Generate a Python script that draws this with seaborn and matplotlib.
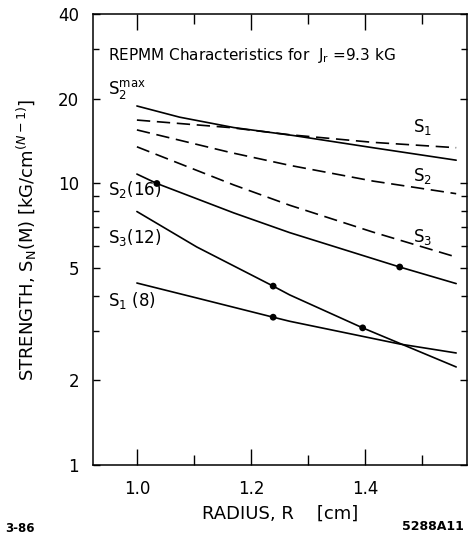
import numpy as np
import pandas as pd
import matplotlib
matplotlib.use("Agg")
import matplotlib.pyplot as plt
import seaborn as sns
from matplotlib.ticker import FixedLocator, FixedFormatter, NullFormatter

# ---------------- data ----------------
s2max_x = [1.0, 1.075, 1.17, 1.275, 1.414, 1.56]
s2max_y = [18.85, 17.2, 15.8, 14.8, 13.4, 12.1]

s1_x = [1.0, 1.163, 1.268, 1.414, 1.56]
s1_y = [16.8, 15.8, 14.9, 14.0, 13.4]

s2_x = [1.0, 1.163, 1.268, 1.414, 1.56]
s2_y = [15.5, 12.9, 11.6, 10.2, 9.2]

s3_x = [1.0, 1.17, 1.268, 1.414, 1.56]
s3_y = [13.5, 9.88, 8.37, 6.72, 5.48]

s2_16_x = [1.0, 1.035, 1.17, 1.268, 1.461, 1.56]
s2_16_y = [10.8, 10.0, 7.86, 6.69, 5.05, 4.41]

s3_12_x = [1.0, 1.105, 1.239, 1.268, 1.396, 1.56]
s3_12_y = [7.95, 5.95, 4.32, 4.02, 3.07, 2.23]

s1_8_x = [1.0, 1.105, 1.239, 1.268, 1.461, 1.56]
s1_8_y = [4.43, 3.92, 3.35, 3.24, 2.69, 2.50]

dots_x = [1.035, 1.461, 1.239, 1.396, 1.239]
dots_y = [10.0, 5.05, 4.32, 3.07, 3.35]

x_major = [1.0, 1.2, 1.4]
x_minor = [1.1, 1.3, 1.5]
x_labels = ["1.0", "1.2", "1.4"]
y_major = [1, 2, 5, 10, 20, 40]
y_minor = [3, 4, 6, 7, 8, 9, 30]
y_labels = ["1", "2", "5", "10", "20", "40"]

# ---------------- figure ----------------
sns.set_style("ticks")
plt.rcParams["font.family"] = ["DejaVu Sans"]
plt.rcParams["text.color"] = "black"
plt.rcParams["axes.labelcolor"] = "black"
plt.rcParams["xtick.color"] = "black"
plt.rcParams["ytick.color"] = "black"

fig = plt.figure(figsize=(4.68, 5.38), dpi=100)
ax = fig.add_axes([93 / 468, 1 - 465 / 538, (467 - 93) / 468, (465 - 14) / 538])

lw = 1.2
solid = [(s2max_x, s2max_y), (s2_16_x, s2_16_y), (s3_12_x, s3_12_y), (s1_8_x, s1_8_y)]
dashed = [(s1_x, s1_y), (s2_x, s2_y), (s3_x, s3_y)]
for xs, ys in solid:
    sns.lineplot(x=xs, y=ys, ax=ax, color="black", lw=lw, sort=False, estimator=None)
for xs, ys in dashed:
    sns.lineplot(x=xs, y=ys, ax=ax, color="black", lw=lw, sort=False, estimator=None,
                 dashes=False, linestyle=(0, (8, 4)))
sns.scatterplot(x=dots_x, y=dots_y, ax=ax, color="black", s=24, edgecolor="none", zorder=5)

ax.set_yscale("log")
ax.set_xlim(0.923, 1.579)
ax.set_ylim(1, 40)

ax.xaxis.set_major_locator(FixedLocator(x_major))
ax.xaxis.set_major_formatter(FixedFormatter(x_labels))
ax.xaxis.set_minor_locator(FixedLocator(x_minor))
ax.yaxis.set_major_locator(FixedLocator(y_major))
ax.yaxis.set_major_formatter(FixedFormatter(y_labels))
ax.yaxis.set_minor_locator(FixedLocator(y_minor))
ax.yaxis.set_minor_formatter(NullFormatter())

ax.tick_params(axis="x", which="major", direction="in", length=11.5, width=1.0,
               top=True, labelsize=12, pad=11)
ax.tick_params(axis="x", which="minor", direction="in", length=7, width=1.0, top=True)
ax.tick_params(axis="y", which="major", direction="in", length=5, width=1.0,
               right=True, labelsize=12, pad=10)
ax.tick_params(axis="y", which="minor", direction="in", length=4, width=1.0, right=True)
for sp in ax.spines.values():
    sp.set_linewidth(1.1)
    sp.set_color("black")

ax.set_xlabel("RADIUS, R    [cm]", fontsize=13, labelpad=5)
ax.set_ylabel(r"STRENGTH, S$_\mathregular{N}$(M) $\left[\mathregular{kG/cm}^{(N-1)}\right]$",
              fontsize=13, labelpad=14)

# annotations
fs = 11
ax.text(0.949, 28.6, r"REPMM Characteristics for  J$_\mathregular{r}$ =9.3 kG", fontsize=fs, va="center")
ax.text(0.949, 21.5, r"S$_\mathregular{2}^\mathregular{max}$", fontsize=fs + 1, va="center")
ax.text(1.484, 15.9, r"S$_\mathregular{1}$", fontsize=fs + 1, va="center")
ax.text(1.484, 10.6, r"S$_\mathregular{2}$", fontsize=fs + 1, va="center")
ax.text(1.484, 6.45, r"S$_\mathregular{3}$", fontsize=fs + 1, va="center")
ax.text(0.949, 9.5, r"S$_\mathregular{2}$(16)", fontsize=fs + 1, va="center")
ax.text(0.949, 6.45, r"S$_\mathregular{3}$(12)", fontsize=fs + 1, va="center")
ax.text(0.949, 3.85, r"S$_\mathregular{1}$ (8)", fontsize=fs + 1, va="center")

fig.text(5 / 468, 1 - 528 / 538, "3-86", fontsize=8.5, fontweight="bold", va="center")
fig.text(402 / 468, 1 - 527 / 538, "5288A11", fontsize=9, fontweight="bold", va="center")

fig.savefig("out.png", dpi=100)
